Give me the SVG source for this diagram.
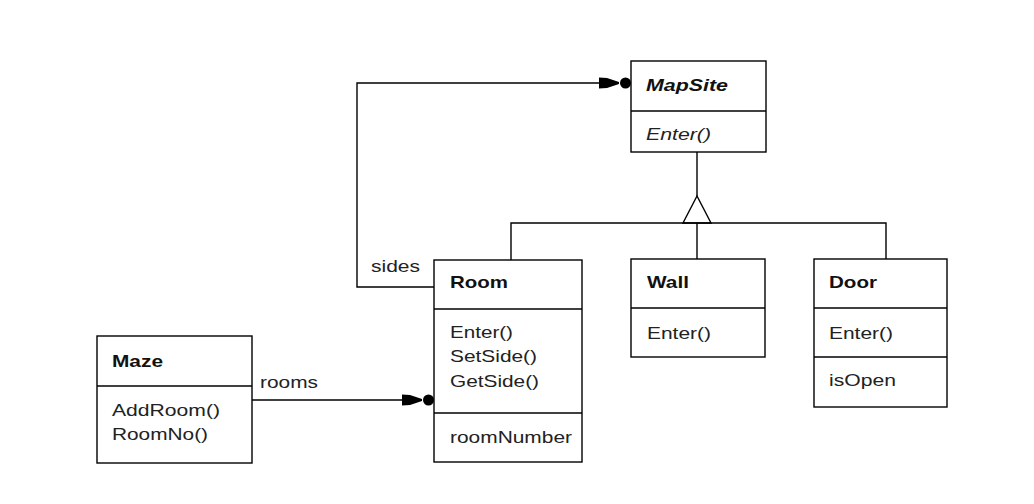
<svg xmlns="http://www.w3.org/2000/svg" width="1034" height="504" viewBox="0 0 1034 504">
  <style>
    .box { fill: #fff; stroke: #000; stroke-width: 1.4; }
    .sep { stroke: #000; stroke-width: 1.4; }
    .line { fill: none; stroke: #000; stroke-width: 1.4; }
    .title { font-family: "Liberation Sans", Arial, sans-serif; font-size: 17px; font-weight: bold; fill: #111; }
    .op { font-family: "Liberation Sans", Arial, sans-serif; font-size: 17px; fill: #222; }
    .ital { font-style: italic; }
    .lbl { font-family: "Liberation Sans", Arial, sans-serif; font-size: 17px; fill: #222; }
  </style>
  <defs>
    <!-- filled arrow followed by a dot: "many" association end -->
    <g id="manyEnd">
      <polygon points="-32,-5.5 -24,-5 -12,-1 -12,1 -24,5 -32,5.5" fill="#000"/>
      <circle cx="-5.5" cy="0" r="5.5" fill="#000"/>
    </g>
  </defs>
  <rect width="1034" height="504" fill="#fff"/>

  <g id="connectors">
    <!-- sides: Room -> MapSite -->
    <polyline class="line" points="434,287 357,287 357,83 602,83"/>
    <use href="#manyEnd" x="631" y="83"/>
    <!-- rooms: Maze -> Room -->
    <line class="line" x1="252" y1="400" x2="405" y2="400"/>
    <use href="#manyEnd" x="434" y="400"/>
    <!-- inheritance -->
    <line class="line" x1="697" y1="152" x2="697" y2="196"/>
    <polygon class="line" points="697,196 683,223 711,223"/>
    <polyline class="line" points="511,260 511,223 886,223 886,259"/>
    <line class="line" x1="697" y1="223" x2="697" y2="259"/>
  </g>

  <g id="MapSite">
    <rect class="box" x="631" y="61" width="135" height="91"/>
    <line class="sep" x1="631" y1="111" x2="766" y2="111"/>
    <text class="title ital" x="646" y="91" textLength="82" lengthAdjust="spacingAndGlyphs">MapSite</text>
    <text class="op ital" x="646" y="140" textLength="65" lengthAdjust="spacingAndGlyphs">Enter()</text>
  </g>

  <g id="Room">
    <rect class="box" x="434" y="260" width="148" height="202"/>
    <line class="sep" x1="434" y1="309" x2="582" y2="309"/>
    <line class="sep" x1="434" y1="413" x2="582" y2="413"/>
    <text class="title" x="450" y="288" textLength="58" lengthAdjust="spacingAndGlyphs">Room</text>
    <text class="op" x="450" y="338" textLength="63" lengthAdjust="spacingAndGlyphs">Enter()</text>
    <text class="op" x="450" y="362" textLength="87" lengthAdjust="spacingAndGlyphs">SetSide()</text>
    <text class="op" x="450" y="387" textLength="89" lengthAdjust="spacingAndGlyphs">GetSide()</text>
    <text class="op" x="450" y="443" textLength="122" lengthAdjust="spacingAndGlyphs">roomNumber</text>
  </g>

  <g id="Wall">
    <rect class="box" x="631" y="259" width="134" height="98"/>
    <line class="sep" x1="631" y1="308" x2="765" y2="308"/>
    <text class="title" x="647" y="288" textLength="42" lengthAdjust="spacingAndGlyphs">Wall</text>
    <text class="op" x="647" y="339" textLength="64" lengthAdjust="spacingAndGlyphs">Enter()</text>
  </g>

  <g id="Door">
    <rect class="box" x="814" y="259" width="133" height="148"/>
    <line class="sep" x1="814" y1="308" x2="947" y2="308"/>
    <line class="sep" x1="814" y1="357" x2="947" y2="357"/>
    <text class="title" x="829" y="288" textLength="48" lengthAdjust="spacingAndGlyphs">Door</text>
    <text class="op" x="829" y="339" textLength="64" lengthAdjust="spacingAndGlyphs">Enter()</text>
    <text class="op" x="829" y="386" textLength="67" lengthAdjust="spacingAndGlyphs">isOpen</text>
  </g>

  <g id="Maze">
    <rect class="box" x="97" y="336" width="155" height="127"/>
    <line class="sep" x1="97" y1="386" x2="252" y2="386"/>
    <text class="title" x="112" y="367" textLength="51" lengthAdjust="spacingAndGlyphs">Maze</text>
    <text class="op" x="112" y="416" textLength="108" lengthAdjust="spacingAndGlyphs">AddRoom()</text>
    <text class="op" x="112" y="440" textLength="96" lengthAdjust="spacingAndGlyphs">RoomNo()</text>
  </g>

  <g id="labels">
    <text class="lbl" x="260" y="388" textLength="58" lengthAdjust="spacingAndGlyphs">rooms</text>
    <text class="lbl" x="371" y="272" textLength="49" lengthAdjust="spacingAndGlyphs">sides</text>
  </g>
</svg>
